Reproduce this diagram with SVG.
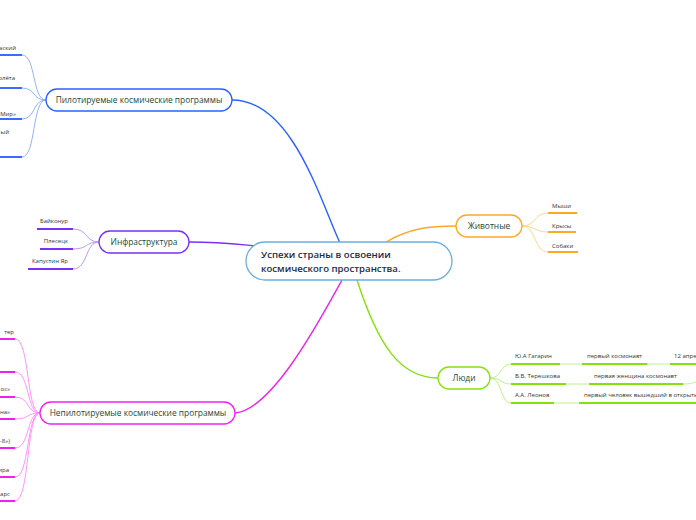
<svg xmlns="http://www.w3.org/2000/svg" width="696" height="520" viewBox="0 0 696 520">
<style>
.t{font-family:"Open Sans","Noto Sans","Liberation Sans",sans-serif;font-size:8.4px;fill:#1b4a3c;text-anchor:middle}
.c{font-family:"Open Sans","Noto Sans","Liberation Sans",sans-serif;font-size:9.6px;font-weight:600;fill:#1c2b4b}
.l{font-family:"Open Sans","Noto Sans","Liberation Sans",sans-serif;font-size:6px;fill:#333}
.e{text-anchor:end}
.m{text-anchor:middle}
.n{fill:#fff;stroke-width:1.3}
.ul{stroke-width:2;fill:none}
.cv{stroke-width:0.9;fill:none}
.mc{stroke-width:1.4;fill:none}
</style>
<rect width="696" height="520" fill="#fff"/>
<g id="connectors">
  <path class="mc" d="M232,100 C292,100 320,200 340,243" stroke="#2962ff"/>
  <path class="mc" d="M189,242 C220,242 235,244 256,246" stroke="#7b2ff7"/>
  <path class="mc" d="M235,413 C272,410 320,320 342,280" stroke="#ee22ee"/>
  <path class="mc" d="M386,242 C410,228 430,226 456,226" stroke="#ffa726"/>
  <path class="mc" d="M357,280 C378,345 400,378 438,378" stroke="#86e010"/>
  <!-- pilot children -->
  <g stroke="#8aa8ff" class="cv">
    <path class="cv" d="M22,55 C36,55 32,100 46,100"/>
    <path class="cv" d="M22,88 C36,88 32,100 46,100"/>
    <path class="cv" d="M22,119 C36,119 32,100 46,100"/>
    <path class="cv" d="M22,157 C36,157 32,100 46,100"/>
  </g>
  <g stroke="#3d6bff" class="ul">
    <path class="ul" d="M0,55 H22"/>
    <path class="ul" d="M0,88 H22"/>
    <path class="ul" d="M0,119 H22"/>
    <path class="ul" d="M0,157 H22"/>
  </g>
  <!-- infra children -->
  <g stroke="#b48cff">
    <path class="cv" d="M73,229 C88,229 85,242 99,242"/>
    <path class="cv" d="M73,249 C88,249 85,242 99,242"/>
    <path class="cv" d="M73,269 C88,269 85,242 99,242"/>
  </g>
  <g stroke="#7b2ff7">
    <path class="ul" d="M37,229 H73"/>
    <path class="ul" d="M40,249 H73"/>
    <path class="ul" d="M28,269 H73"/>
  </g>
  <!-- non-pilot children -->
  <g stroke="#ff88ff">
    <path class="cv" d="M15,339 C30,339 26,413 40,413"/>
    <path class="cv" d="M15,372 C30,372 26,413 40,413"/>
    <path class="cv" d="M15,397 C30,397 26,413 40,413"/>
    <path class="cv" d="M15,419 C30,419 26,413 40,413"/>
    <path class="cv" d="M15,448 C30,448 26,413 40,413"/>
    <path class="cv" d="M15,477 C30,477 26,413 40,413"/>
    <path class="cv" d="M15,501 C30,501 26,413 40,413"/>
  </g>
  <g stroke="#ee22ee">
    <path class="ul" d="M0,339 H15"/>
    <path class="ul" d="M0,372 H15"/>
    <path class="ul" d="M0,397 H15"/>
    <path class="ul" d="M0,419 H15"/>
    <path class="ul" d="M0,448 H15"/>
    <path class="ul" d="M0,477 H15"/>
    <path class="ul" d="M0,501 H15"/>
  </g>
  <!-- animals children -->
  <g stroke="#ffd08a">
    <path class="cv" d="M522,226 C536,226 534,213 548,213"/>
    <path class="cv" d="M522,226 C536,226 534,232 548,232"/>
    <path class="cv" d="M522,226 C536,226 534,252 548,252"/>
  </g>
  <g stroke="#ffa726">
    <path class="ul" d="M548,213 H577"/>
    <path class="ul" d="M548,232 H576"/>
    <path class="ul" d="M548,252 H578"/>
  </g>
  <!-- people children -->
  <g stroke="#b8ee80">
    <path class="cv" d="M490,378 C502,378 500,364 511,364"/>
    <path class="cv" d="M490,378 C502,378 500,384 511,384"/>
    <path class="cv" d="M490,378 C502,378 500,403 511,403"/>
    <path class="cv" d="M560,364 H582"/>
    <path class="cv" d="M647,364 H670"/>
    <path class="cv" d="M566,384 H589"/>
    <path class="cv" d="M683,384 C690,384 692,383 696,382"/>
    <path class="cv" d="M554,403 H579"/>
  </g>
  <g stroke="#86e010">
    <path class="ul" d="M511,364 H560"/>
    <path class="ul" d="M582,364 H647"/>
    <path class="ul" d="M670,364 H696"/>
    <path class="ul" d="M511,384 H566"/>
    <path class="ul" d="M589,384 H683"/>
    <path class="ul" d="M511,403 H554"/>
    <path class="ul" d="M579,403 H696"/>
  </g>
</g>
<g id="central">
  <rect class="n" x="246" y="242" width="206" height="38" rx="19" stroke="#6aaee0"/>
  <text class="c" x="261" y="258">Успехи страны в освоении</text>
  <text class="c" x="261" y="272">космического пространства.</text>
</g>
<g id="pilot">
  <rect class="n" x="46" y="89" width="186" height="22" rx="11" stroke="#2962ff"/>
  <text class="t" x="139" y="103">Пилотируемые космические программы</text>
</g>
<g id="pilot-items">
  <text class="l e" x="16" y="50">аский</text>
  <text class="l e" x="15" y="80">олёта</text>
  <text class="l e" x="16" y="116">«Мир»</text>
  <text class="l e" x="9" y="134">ый</text>
</g>
<g id="infra">
  <rect class="n" x="99" y="231" width="90" height="22" rx="11" stroke="#7b2ff7"/>
  <text class="t" x="144" y="245">Инфраструктура</text>
</g>
<g id="infra-items">
  <text class="l e" x="68" y="223">Байконур</text>
  <text class="l e" x="68" y="243">Плесецк</text>
  <text class="l e" x="68" y="263">Капустин Яр</text>
</g>
<g id="nonpilot">
  <rect class="n" x="40" y="402" width="195" height="22" rx="11" stroke="#ee22ee"/>
  <text class="t" x="138" y="416">Непилотируемые космические программы</text>
</g>
<g id="nonpilot-items">
  <text class="l e" x="14" y="334">тер</text>
  <text class="l e" x="10" y="391">ос»</text>
  <text class="l e" x="10" y="414">на»</text>
  <text class="l e" x="10" y="443">-8»)</text>
  <text class="l e" x="9" y="472">ира</text>
  <text class="l e" x="10" y="496">арс</text>
</g>
<g id="animals">
  <rect class="n" x="456" y="215" width="66" height="22" rx="11" stroke="#ffa726"/>
  <text class="t" x="489" y="229">Животные</text>
  <text class="l" x="552" y="208">Мыши</text>
  <text class="l" x="552" y="228">Крысы</text>
  <text class="l" x="552" y="248">Собаки</text>
</g>
<g id="people">
  <rect class="n" x="438" y="367" width="52" height="22" rx="11" stroke="#86e010"/>
  <text class="t" x="464" y="381">Люди</text>
  <text class="l" x="515" y="358">Ю.А Гагарин</text>
  <text class="l" x="587" y="358">первый космонавт</text>
  <text class="l" x="674" y="358">12 апреля</text>
  <text class="l" x="515" y="378">В.В. Терешкова</text>
  <text class="l" x="594" y="378">первая женщина космонавт</text>
  <text class="l" x="515" y="397">А.А. Леонов</text>
  <text class="l" x="584" y="397">первый человек вышедший в открытый космос</text>
</g>
</svg>
